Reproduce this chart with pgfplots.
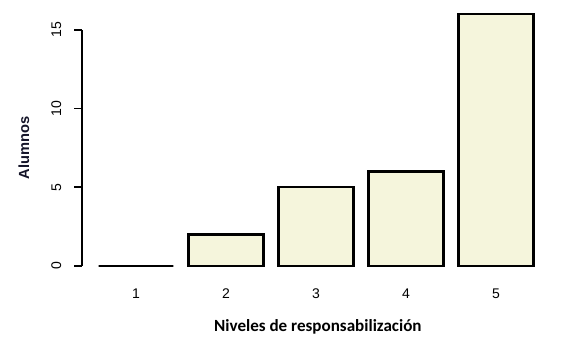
\documentclass[border=0pt]{standalone}
\usepackage{fontspec}
\setmainfont{Liberation Sans}
\newfontfamily\carlito{Carlito}
\usepackage{pgfplots}
\pgfplotsset{compat=1.18}
\definecolor{barfill}{RGB}{245,245,220}
\begin{document}
\begin{tikzpicture}
\begin{axis}[
  scale only axis,
  width=351pt, height=204pt,
  xmin=0.4, xmax=5.6,
  ymin=-0.64, ymax=16.64,
  axis line style={draw=none},
  clip=false,
  xtick={1,2,3,4,5},
  xtick style={draw=none},
  ytick={0,5,10,15},
  ytick pos=left,
  tick align=outside,
  major tick length=6pt,
  ytick style={draw=none},
  /pgf/number format/assume math mode=true,
  ticklabel style={font=\fontsize{10.5}{12}\selectfont},
  yticklabel style={xshift=-13.25pt, rotate=90, anchor=center},
  xticklabel style={anchor=center, yshift=-7.5pt},
  xlabel={\carlito\bfseries Niveles de responsabilización},
  ylabel={\bfseries Alumnos},
  xlabel style={at={(axis description cs:0.504,-0.1875)}, anchor=center, font=\fontsize{12.8}{14}\selectfont},
  ylabel style={at={(axis description cs:-0.124,0.47)}, anchor=center, rotate=0, font=\fontsize{11}{13}\selectfont, color={rgb,255:red,20;green,20;blue,40}},
]
\addplot[ybar, bar width=0.833, fill=barfill, draw=black, line width=1.6pt] coordinates {(1,0) (2,2) (3,5) (4,6) (5,16)};
\draw[black, line width=1.5pt] (axis cs:0.4,0) -- (axis cs:0.4,15);
\pgfplotsinvokeforeach{0,5,10,15}{
  \draw[black, line width=1.2pt] (axis cs:0.4,#1) -- (axis cs:0.311,#1);
}
\end{axis}
\pgfresetboundingbox
\useasboundingbox (-61.5pt,-52.5pt) rectangle (361.5pt,207pt);
\end{tikzpicture}
\end{document}
